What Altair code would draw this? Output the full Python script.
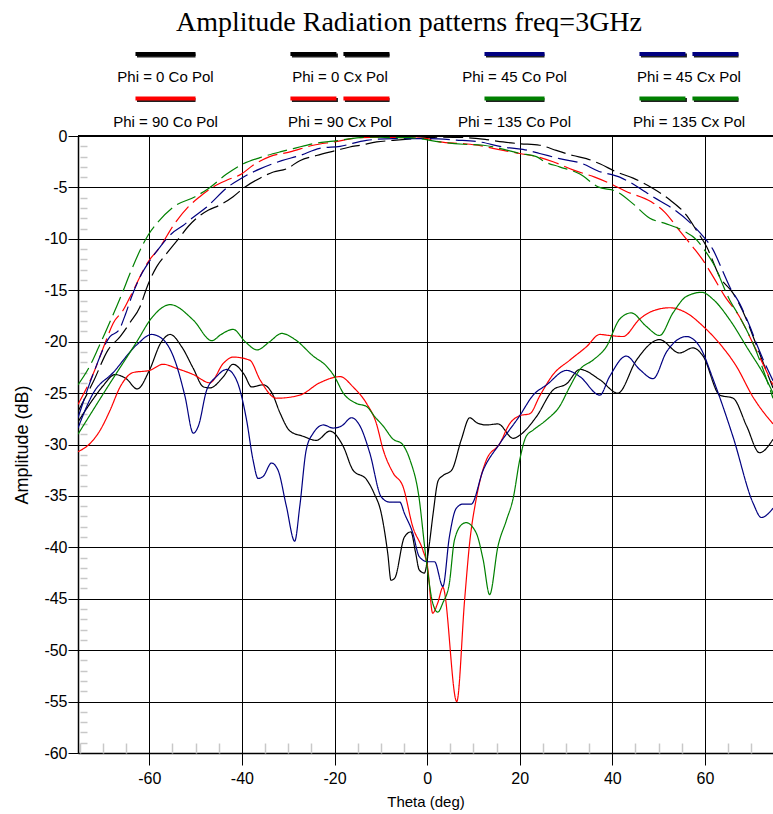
import altair as alt
import pandas as pd

TITLE = "Amplitude Radiation patterns freq=3GHz"
X_TITLE = "Theta (deg)"
Y_TITLE = "Amplitude (dB)"
X_TICKS = [-60, -40, -20, 0, 20, 40, 60]
X_MINOR = [-75, -70, -65, -55, -50, -45, -35, -30, -25, -15, -10, -5,
           5, 10, 15, 25, 30, 35, 45, 50, 55, 65, 70]
Y_TICKS = [0, -5, -10, -15, -20, -25, -30, -35, -40, -45, -50, -55, -60]
Y_MINOR = [v for v in range(-59, 0) if v % 5 != 0]
X_DOMAIN = [-75.4, 74.7]
Y_DOMAIN = [-60, 0]

# ---- Phi = 0 Co Pol (black, solid)
p0co_theta = [-75.4, -72, -70, -67.4, -65, -62.6, -60, -57.5, -55.5, -53, -50.5, -48.3, -46.9, -44,
              -41.9, -39.5, -37.9, -35.4, -33.5, -31.8, -29.6, -26.8, -23.9, -21, -18.1, -16, -13.1,
              -11.5, -9.9, -8.5, -7.8, -7, -4.9, -3.5, -2.5, -1.7, -0.6, 0.5, 1.3, 2.4, 3.5, 5.3,
              7.4, 9.2, 10.8, 12.8, 15.3, 18.6, 20, 23.6, 27.2, 30.1, 33, 37.3, 41.2, 45.2, 50.2,
              54.5, 57.4, 59.6, 63.2, 66.1, 69, 71.8, 74.7]
p0co_db = [-27.8, -25.5, -24.3, -23.2, -23.6, -24.6, -22.8, -20.1, -19.3, -20.5, -22.6, -24.4, -24.5,
           -23.4, -22.2, -23.2, -24.4, -24.2, -25.0, -26.9, -28.7, -29.2, -29.6, -28.7, -30.2, -32.5,
           -33.4, -34.7, -36.7, -40.6, -43.2, -43.0, -39.0, -38.5, -40.5, -42.2, -42.5, -39.6, -36.7,
           -33.5, -33.0, -32.5, -29.5, -27.4, -27.9, -28.1, -28.0, -29.4, -29.1, -27.3, -24.7, -24.1,
           -22.7, -23.7, -25.0, -21.8, -19.8, -21.1, -20.6, -21.4, -25.2, -25.5, -28.2, -30.8, -29.5]

# ---- Phi = 90 Co Pol (red, solid)
p90co_theta = [-75.4, -72.8, -70.6, -68.5, -66.3, -63.5, -60, -57, -54.1, -50.5, -46.9, -44, -41.9,
               -38.3, -36.1, -32.5, -27.5, -23.2, -18.8, -16, -13.1, -11, -9.5, -7.3, -5.2, -3.1,
               -0.9, 0.1, 1.2, 2.3, 3.4, 6.4, 8.1, 9.2, 10.6, 12.8, 15.7, 17.8, 20, 22.2, 24.3,
               27.2, 30.8, 34.4, 37.3, 39.4, 42.3, 45.9, 48.8, 52.4, 56, 59.6, 63.2, 66.8, 70.4, 74.7]
p90co_db = [-30.7, -29.9, -28.6, -26.7, -24.4, -23.0, -22.8, -22.2, -22.6, -23.2, -24.0, -22.1, -21.5,
            -21.8, -23.7, -25.5, -25.2, -24.0, -23.4, -24.4, -26.0, -27.9, -30.5, -32.8, -34.1, -38.0,
            -40.3, -41.9, -46.4, -45.4, -43.9, -55.0, -45.1, -39.5, -35.3, -31.5, -29.9, -28.0, -27.2,
            -27.0, -25.3, -23.2, -21.8, -20.5, -19.3, -19.4, -19.5, -17.8, -17.0, -16.7, -17.2, -18.5,
            -20.2, -22.4, -25.4, -28.0]

# ---- Phi = 45 Co Pol (navy, solid)
p45co_theta = [-75.4, -72.1, -67.8, -62.7, -59.5, -57, -54.5, -52.3, -50.5, -49.4, -47.6, -45.5,
               -43.3, -41.2, -39, -37.6, -36.5, -35.4, -33.6, -32.2, -30.4, -28.6, -27.5, -26.1,
               -24.6, -22.4, -20.3, -18.5, -16.3, -14.5, -12.4, -9.9, -8.1, -5.9, -4.9, -3.1, -1.7,
               0.1, 1.6, 3.4, 4.8, 6.3, 7.7, 9.5, 12.1, 15.7, 20, 22.9, 25.8, 30.1, 33, 37.3, 39.4,
               43, 45.9, 48.8, 51.7, 56, 58.9, 61.8, 66.1, 70.4, 72.2, 74.7]
p45co_db = [-28.4, -25.0, -23.0, -20.3, -19.3, -19.8, -21.8, -25.3, -28.9, -28.2, -24.7, -23.4, -22.7,
            -23.7, -27.6, -31.5, -33.3, -33.1, -31.8, -32.5, -36.0, -39.4, -36.0, -30.5, -28.9, -28.1,
            -28.4, -28.2, -27.4, -28.2, -30.8, -35.1, -35.6, -35.6, -36.7, -38.6, -40.9, -41.4, -41.4,
            -43.8, -39.0, -36.2, -35.8, -35.8, -32.5, -29.9, -27.2, -25.2, -24.2, -22.8, -23.4, -25.2,
            -23.4, -21.4, -22.7, -23.6, -21.0, -19.5, -20.5, -23.7, -29.3, -35.7, -37.1, -36.2]

# ---- Phi = 135 Co Pol (green, solid)
p135co_theta = [-75.4, -69, -62.7, -59.5, -55.5, -50.5, -46.5, -44.5, -41.9, -39.3, -36.7, -34,
                -31.4, -28.5, -24.6, -21.7, -20, -18.1, -15.3, -13.1, -11.3, -9.5, -7.3, -5.5, -3.7,
                -1.9, -0.2, 1.2, 2.3, 3.4, 4.8, 5.9, 7.7, 8.4, 10.6, 12.1, 13.5, 15.3, 17.1, 18.6,
                20, 21.4, 22.9, 25.8, 28.6, 30.8, 33, 35.8, 38.7, 41.6, 44.1, 47.3, 50.2, 53.1, 56,
                59.3, 61.8, 65.4, 69, 73.3, 74.7]
p135co_db = [-29.0, -24.4, -20.0, -17.7, -16.4, -17.9, -19.9, -19.3, -18.8, -20.0, -20.8, -20.0, -19.2,
             -19.8, -21.4, -22.4, -23.4, -25.0, -26.0, -26.3, -27.3, -28.2, -29.5, -29.9, -31.5, -34.7,
             -41.2, -45.4, -46.3, -45.4, -43.5, -39.3, -37.7, -37.6, -38.6, -41.2, -44.6, -39.9, -37.4,
             -35.2, -31.5, -29.2, -28.6, -27.6, -26.3, -24.4, -22.7, -21.8, -20.5, -17.8, -17.2, -18.5,
             -19.4, -17.2, -15.6, -15.2, -15.9, -17.9, -20.5, -23.7, -25.0]

# ---- Phi = 0 Cx Pol (black, dashed)
p0cx_theta = [-75.4, -72, -68.9, -66.3, -64.1, -62, -60.5, -58.4, -56.2, -53.7, -51.6, -49.8, -47.2,
              -44.7, -41.9, -39.3, -36.1, -33.2, -30.4, -27.5, -23.9, -19.6, -16.7, -14.5, -10.9,
              -7.3, -3, 0, 2.7, 8.5, 12.8, 16.4, 20, 24.3, 27.9, 31.5, 34.4, 37.3, 40.9, 44.5, 48.8,
              52.4, 56, 58.2, 60.4, 63.2, 66.1, 69.3, 70.4, 74.7]
p0cx_db = [-26.8, -23.8, -20.8, -19.5, -18.1, -16.6, -14.7, -12.7, -11.4, -10.0, -8.8, -8.0, -7.2,
           -6.7, -5.9, -4.95, -4.1, -3.5, -3.2, -2.4, -1.9, -1.4, -1.07, -0.9, -0.58, -0.42, -0.26,
           -0.16, -0.1, -0.16, -0.35, -0.58, -0.75, -0.9, -1.4, -1.9, -2.2, -2.7, -3.5, -4.1, -5.1,
           -6.2, -7.7, -9.2, -10.8, -13.7, -15.3, -18.2, -19.5, -24.5]

# ---- Phi = 90 Cx Pol (red, dashed)
p90cx_theta = [-75.4, -72, -69.6, -67.8, -65.6, -64.1, -60.2, -57.7, -54.8, -51.6, -49.1, -46.2, -43.3,
               -40.1, -37.6, -34, -29.6, -24.6, -20.2, -14.5, -10.2, -5.2, 0, 2.7, 7.8, 11, 14.2, 20,
               23.6, 27.2, 31.5, 36.2, 39.4, 43, 48.4, 51.3, 54.5, 57.4, 59.6, 61.8, 64.3, 67.5,
               70.4, 74.7]
p90cx_db = [-26.1, -23.0, -20.2, -18.2, -16.9, -15.6, -12.2, -10.8, -8.7, -6.9, -5.9, -4.95, -4.3,
            -3.7, -2.85, -2.0, -1.55, -0.9, -0.58, -0.16, -0.1, -0.16, -0.26, -0.58, -0.75, -0.9,
            -1.2, -1.7, -2.0, -2.5, -3.3, -4.0, -4.6, -5.4, -6.4, -7.4, -9.2, -10.8, -12.1, -13.7,
            -15.6, -17.6, -20.2, -24.2]

# ---- Phi = 45 Cx Pol (navy, dashed)
p45cx_theta = [-75.4, -72, -68.5, -66.6, -65.2, -63.8, -62, -60, -57.7, -55.2, -52.7, -50.5, -47.6,
               -43, -40.1, -36.1, -31.4, -27.5, -23.2, -18.8, -13.1, -7.3, 0, 6.3, 11.4, 16.4, 20.7,
               24.3, 28.6, 33.6, 36.9, 41.6, 45.5, 48.7, 53, 56.6, 59.1, 61.8, 63.9, 65.4, 67.5,
               69.7, 71.5, 74.7]
p45cx_db = [-27.4, -23.0, -19.5, -18.9, -17.4, -15.6, -13.7, -12.2, -10.8, -9.5, -8.7, -7.9, -6.9,
            -4.95, -4.1, -3.2, -2.4, -1.9, -1.2, -1.0, -0.42, -0.26, -0.26, -0.4, -0.58, -1.07, -1.3,
            -1.7, -2.2, -2.7, -3.4, -4.0, -4.95, -5.9, -7.05, -8.35, -9.5, -11.1, -13.2, -14.7,
            -16.3, -18.5, -20.6, -23.8]

# ---- Phi = 135 Cx Pol (green, dashed)
p135cx_theta = [-75.4, -73, -71, -69.6, -65.6, -64.2, -60.2, -58, -54.8, -50.1, -47.2, -43.3, -39.7,
                -36.1, -31.8, -28.9, -24.6, -20.2, -14.5, -10.9, -7.3, -3.7, -1.6, 2.7, 7.8, 12.1,
                15.7, 20, 23.6, 25.4, 28.6, 33, 36.9, 40.9, 44.5, 48.1, 51.4, 55.3, 58.2, 59.6, 61.8,
                65.4, 67.5, 70.4, 74.7]
p135cx_db = [-24.2, -22.5, -20.6, -19.2, -15.0, -13.4, -9.6, -8.3, -6.9, -5.9, -5.1, -3.7, -2.7, -2.1,
             -1.55, -1.23, -0.74, -0.5, -0.16, -0.1, -0.16, -0.16, -0.26, -0.58, -0.8, -0.9, -1.2,
             -1.7, -2.0, -2.5, -3.0, -3.7, -4.95, -5.4, -6.6, -8.0, -8.5, -9.2, -10.1, -10.9, -12.4,
             -16.0, -17.6, -20.2, -25.5]

SERIES_NAMES = ["Phi = 0 Co Pol", "Phi = 90 Co Pol", "Phi = 0 Cx Pol", "Phi = 90 Cx Pol",
                "Phi = 45 Co Pol", "Phi = 135 Co Pol", "Phi = 45 Cx Pol", "Phi = 135 Cx Pol"]
SERIES_DATA = [(p0co_theta, p0co_db), (p90co_theta, p90co_db), (p0cx_theta, p0cx_db),
               (p90cx_theta, p90cx_db), (p45co_theta, p45co_db), (p135co_theta, p135co_db),
               (p45cx_theta, p45cx_db), (p135cx_theta, p135cx_db)]
SERIES_COLORS = ["#000000", "#ff0000", "#000000", "#ff0000",
                 "#000080", "#008000", "#000080", "#008000"]
SERIES_DASHED = [False, False, True, True, False, False, True, True]
LEGEND_COL = [0, 0, 1, 1, 2, 2, 3, 3]
LEGEND_ROW = [0, 1, 0, 1, 0, 1, 0, 1]

rows = []
for name, (th, db) in zip(SERIES_NAMES, SERIES_DATA):
    for t, d in zip(th, db):
        rows.append({"series": name, "theta": t, "db": d})
df = pd.DataFrame(rows)

leg = pd.DataFrame({"series": SERIES_NAMES, "col": LEGEND_COL, "row": LEGEND_ROW,
                    "dashed": SERIES_DASHED})

W, H = 695, 617
FONT = "Liberation Sans"

color_scale = alt.Scale(domain=SERIES_NAMES, range=SERIES_COLORS)
dash_scale = alt.Scale(domain=SERIES_NAMES,
                       range=[[20, 6] if d else [1, 0] for d in SERIES_DASHED])
xs = alt.Scale(domain=X_DOMAIN, nice=False, zero=False)
ys = alt.Scale(domain=Y_DOMAIN, nice=False, zero=False)

lines = alt.Chart(df).mark_line(strokeWidth=1.2, clip=True, interpolate="monotone").encode(
    x=alt.X("theta:Q", scale=xs, axis=alt.Axis(
        values=X_TICKS, grid=True, gridColor="black", gridOpacity=1, gridWidth=1,
        tickColor="black", tickSize=12, tickWidth=1, domainColor="black", domainWidth=1.5,
        labelFontSize=16, labelPadding=5, labelExpr="'' + datum.value", labelFlush=False,
        title=X_TITLE, titleFontSize=15, titleFontWeight="normal", titlePadding=8)),
    y=alt.Y("db:Q", scale=ys, axis=alt.Axis(
        values=Y_TICKS, grid=True, gridColor="black", gridOpacity=1, gridWidth=1,
        tickColor="black", tickSize=10, tickWidth=1, domainColor="black", domainWidth=1.5,
        labelFontSize=16, labelPadding=1, labelExpr="'' + datum.value", labelFlush=False,
        title=Y_TITLE, titleFontSize=18, titleFontWeight="normal", titlePadding=12)),
    color=alt.Color("series:N", scale=color_scale, legend=None),
    strokeDash=alt.StrokeDash("series:N", scale=dash_scale, legend=None),
    detail="series:N",
)

minor = alt.Chart(df).mark_point(opacity=0).encode(
    x=alt.X("theta:Q", scale=xs, axis=alt.Axis(
        orient="top", offset=-H, values=X_MINOR, labels=False, grid=False, domain=False,
        tickColor="#c8c8c8", tickSize=10, tickWidth=1.5, title=None)),
    y=alt.Y("db:Q", scale=ys, axis=alt.Axis(
        orient="right", offset=-(W - 2), values=Y_MINOR, labels=False, grid=False, domain=False,
        tickColor="#c8c8c8", tickSize=7, tickWidth=1.5, title=None)),
)

top_line = alt.Chart(pd.DataFrame({"v": [0]})).mark_rule(color="black", strokeWidth=2).encode(
    y=alt.Y("v:Q", scale=ys, axis=None))

main = alt.layer(lines, minor, top_line).resolve_axis(x="independent", y="independent")

# ---- legend (its own scales: column index across, row index down)
lx = alt.Scale(domain=[-0.5014, 3.4814], nice=False, zero=False)
ly = alt.Scale(domain=[0, 1], range=[-82, -37.5], nice=False, zero=False)

leg_base = alt.Chart(leg).transform_calculate(
    half="datum.dashed ? 0.284 : 0.172"
).transform_calculate(
    x1="datum.col - datum.half", x2="datum.col + datum.half"
)

def swatch(dashed):
    dash = [46, 7] if dashed else [1, 0]
    b = leg_base.transform_filter(f"datum.dashed == {str(dashed).lower()}")
    shadow = b.mark_rule(strokeWidth=4, color="#202020", strokeDash=dash, strokeCap="butt",
                         xOffset=1.5, yOffset=1.5).encode(
        x=alt.X("x1:Q", scale=lx, axis=None), x2="x2:Q",
        y=alt.Y("row:Q", scale=ly, axis=None))
    face = b.mark_rule(strokeWidth=4, strokeDash=dash, strokeCap="butt").encode(
        x=alt.X("x1:Q", scale=lx, axis=None), x2="x2:Q",
        y=alt.Y("row:Q", scale=ly, axis=None),
        color=alt.Color("series:N", scale=color_scale, legend=None))
    return shadow + face

leg_text = leg_base.mark_text(font=FONT, fontSize=15, color="black", baseline="middle",
                              yOffset=23).encode(
    x=alt.X("col:Q", scale=lx, axis=None),
    y=alt.Y("row:Q", scale=ly, axis=None),
    text="series:N")

title_mark = alt.Chart(pd.DataFrame({"t": [TITLE]})).mark_text(
    font="Liberation Serif", fontSize=28, color="black", baseline="alphabetic", align="center"
).encode(text="t:N", x=alt.value(409 - 78), y=alt.value(31 - 136))

legend_layer = alt.layer(swatch(False), swatch(True), leg_text, title_mark)

chart = alt.layer(main, legend_layer).resolve_scale(
    x="independent", y="independent"
).properties(
    width=W, height=H,
    padding={"left": 78, "top": 136, "right": 0, "bottom": 61},
    autosize=alt.AutoSizeParams(type="none"),
    background="white",
).configure_view(stroke=None).configure_axis(
    labelFont=FONT, titleFont=FONT, labelColor="black", titleColor="black"
)

chart.save("out.html", embed_options={"renderer": "svg", "actions": False})
